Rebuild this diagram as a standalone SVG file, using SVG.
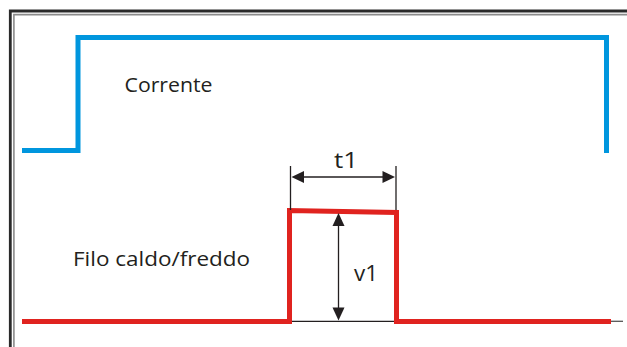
<svg xmlns="http://www.w3.org/2000/svg" width="627" height="347" viewBox="0 0 627 347">
<style>
.lbl{font-family:"Open Sans","Liberation Sans",sans-serif;fill:#231f20}
.dim{stroke:#231f20;stroke-width:1.3;fill:none}
.ah{fill:#231f20}
</style>
<rect width="627" height="347" fill="#ffffff"/>
<g id="frame">
<path d="M10.3,347 V11 H627" fill="none" stroke="#2a2a2a" stroke-width="2.8"/>
<path d="M13.9,347 V14.6 H627" fill="none" stroke="#8a8a8a" stroke-width="1.6"/>
</g>
<g id="connectors">
<path id="corrente-wave" d="M22,150.5 H78 V37.5 H606.5 V153" fill="none" stroke="#0096de" stroke-width="5"/>
<line x1="290" y1="321.3" x2="397" y2="321.3" class="dim"/>
<line x1="609" y1="321.3" x2="623" y2="321.3" stroke="#555" stroke-width="1.3"/>
<path id="filo-wave" d="M22,321.5 H289.5 V210.5 L396.5,212.5 V321.5 H611" fill="none" stroke="#e0231f" stroke-width="5"/>
<line x1="290.5" y1="166" x2="290.5" y2="210" class="dim"/>
<line x1="396" y1="166" x2="396" y2="210" class="dim"/>
<line x1="300" y1="177" x2="386" y2="177" class="dim"/>
<path class="ah" d="M291.5,177 L304,171 L304,183 Z"/>
<path class="ah" d="M395,177 L382.5,171 L382.5,183 Z"/>
<line x1="338.5" y1="222" x2="338.5" y2="311" class="dim"/>
<path class="ah" d="M338.5,213 L332.5,226 L344.5,226 Z"/>
<path class="ah" d="M338.5,320.5 L332.5,307.5 L344.5,307.5 Z"/>
</g>
<g id="corrente"><text class="lbl" x="124.5" y="92" font-size="20" textLength="88" lengthAdjust="spacingAndGlyphs">Corrente</text></g>
<g id="filo"><text class="lbl" x="73" y="266" font-size="20" textLength="177" lengthAdjust="spacingAndGlyphs">Filo caldo/freddo</text></g>
<g id="t1"><text class="lbl" x="334" y="168" font-size="22" textLength="24" lengthAdjust="spacingAndGlyphs">t1</text></g>
<g id="v1"><text class="lbl" x="354" y="281" font-size="22" textLength="24" lengthAdjust="spacingAndGlyphs">v1</text></g>
</svg>
